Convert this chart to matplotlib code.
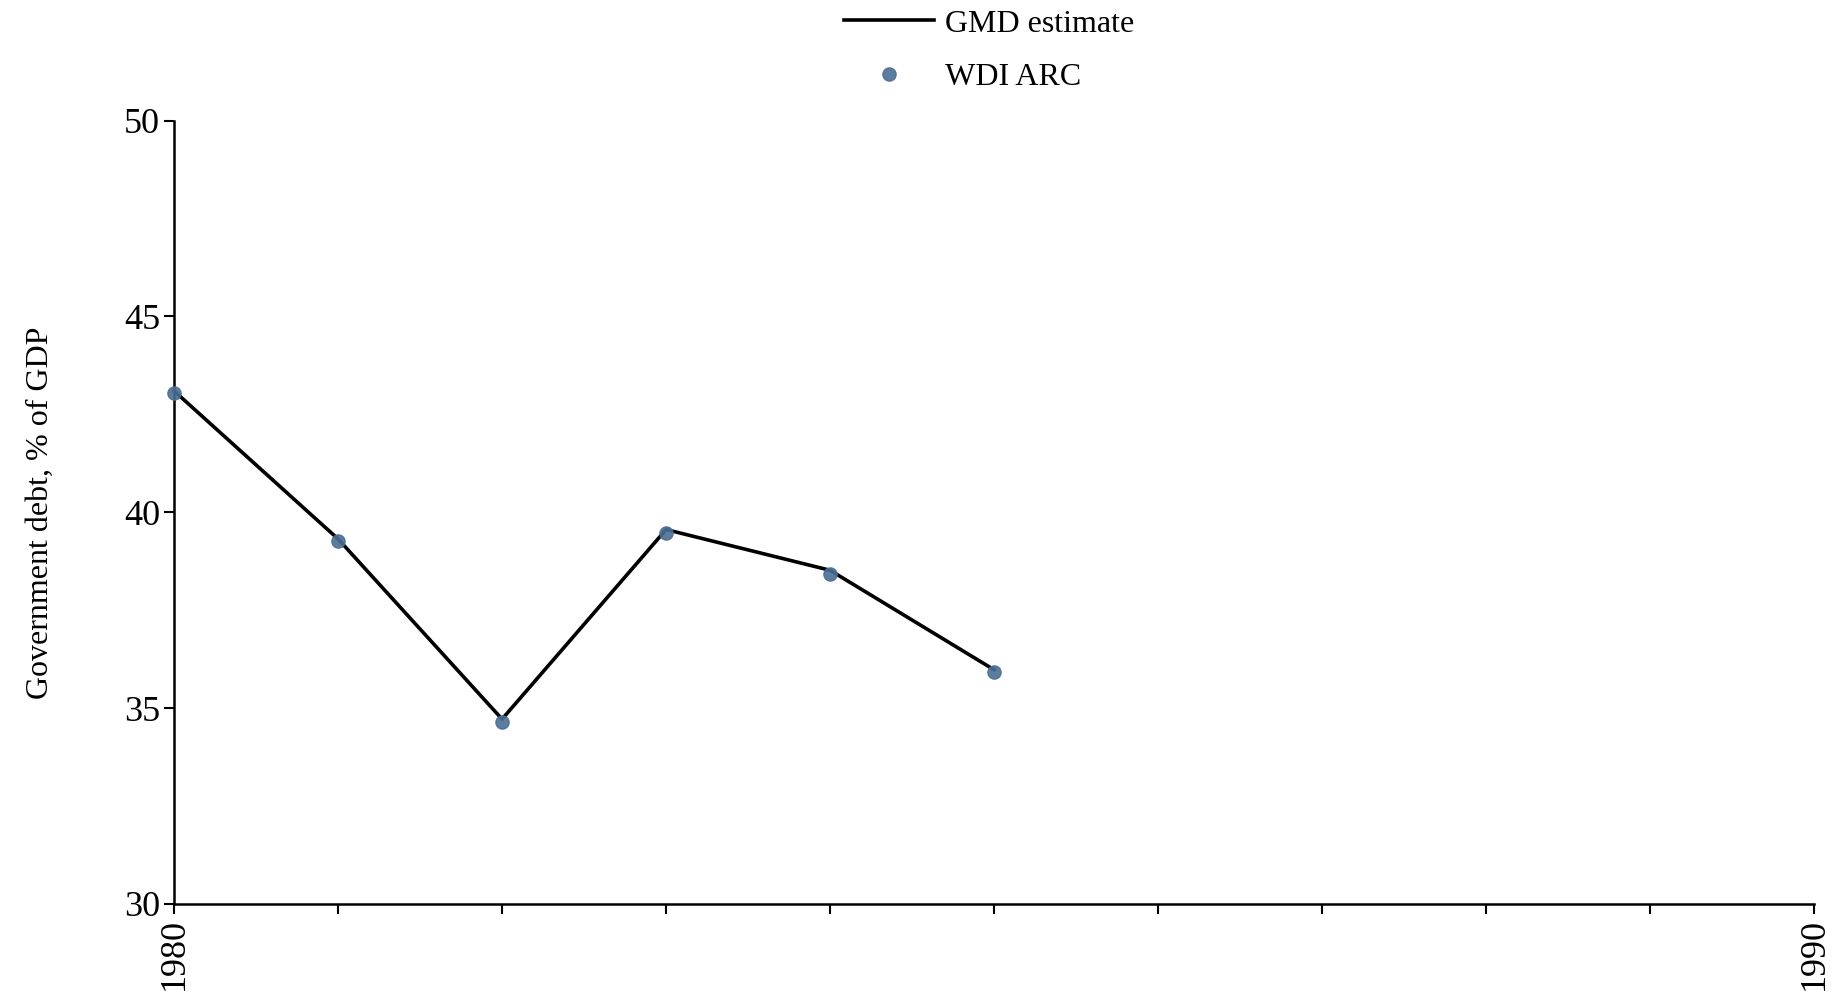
import matplotlib
matplotlib.use("Agg")
import matplotlib.pyplot as plt

# data
years = [1980, 1981, 1982, 1983, 1984, 1985]
gmd_estimate = [43.1, 39.32, 34.72, 39.56, 38.52, 35.98]
wdi_arc = [43.05, 39.28, 34.64, 39.48, 38.43, 35.92]

x_ticks = list(range(1980, 1991))
x_labels = ["1980", "", "", "", "", "", "", "", "", "", "1990"]
y_ticks = [30, 35, 40, 45, 50]

plt.rcParams["font.family"] = ["Liberation Serif", "DejaVu Serif"]

fig = plt.figure(figsize=(18.4, 10.08), dpi=100)
ax = fig.add_axes([0.0946, 0.1032, 0.8913, 0.7771])

ax.plot(years, gmd_estimate, color="black", lw=2.6, label="GMD estimate",
        zorder=2, clip_on=False)
ax.plot(years, wdi_arc, ls="none", marker="o", ms=9.5, color="#4a6f94",
        alpha=0.9, label="WDI ARC", zorder=3, clip_on=False)

ax.set_xlim(1980, 1990)
ax.set_ylim(30, 50)
ax.set_xticks(x_ticks)
ax.set_xticklabels(x_labels, rotation=90, fontsize=26)
ax.set_yticks(y_ticks)
ax.set_yticklabels([str(v) for v in y_ticks], fontsize=26)
ax.tick_params(direction="out", length=7, width=1.5, pad=3)

for s in ["top", "right"]:
    ax.spines[s].set_visible(False)
for s in ["left", "bottom"]:
    ax.spines[s].set_linewidth(1.8)

ax.set_ylabel("Government debt, % of GDP", fontsize=23, labelpad=50)

ax.legend(loc="lower center", bbox_to_anchor=(0.497, 1.0), frameon=False,
          fontsize=23, ncol=1, handlelength=2.8, handletextpad=0.35,
          labelspacing=0.75, borderaxespad=0.5)

fig.savefig("out.png", dpi=100)
